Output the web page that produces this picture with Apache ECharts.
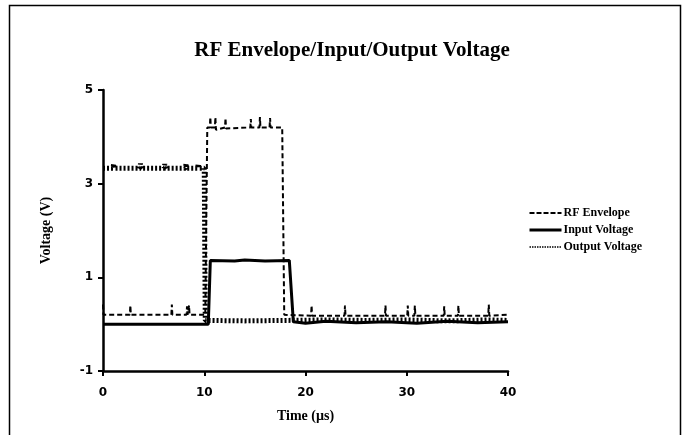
<!DOCTYPE html>
<html>
<head>
<meta charset="utf-8">
<script src="https://cdn.jsdelivr.net/npm/echarts@6/dist/echarts.min.js"></script>
<style>
  html, body { margin: 0; padding: 0; background: #fff; }
  #chart { width: 690px; height: 435px; }
</style>
</head>
<body>
<div id="chart"></div>
<script>
// 数据
var xTicks = [0, 10, 20, 30, 40];
var yTicks = [-1, 1, 3, 5];

var rfTime = [0, 0.05, 2.65, 2.7, 2.75, 6.75, 6.8, 6.85, 8.25, 8.3, 8.35, 8.45, 8.5, 8.55, 10.1,
  10.3, 10.55, 10.6, 10.65, 11.05, 11.1, 11.15, 12.05, 12.1, 12.15, 14.55, 14.6, 14.65,
  15.45, 15.5, 15.55, 16.45, 16.5, 16.55, 17.7,
  17.9, 20.55, 20.6, 20.65, 23.85, 23.9, 23.95, 27.85, 27.9, 27.95, 30.05, 30.1, 30.15,
  30.75, 30.8, 30.85, 33.65, 33.7, 33.75, 35.05, 35.1, 35.15, 38.05, 38.1, 38.15, 40];
var rfValue = [0.42, 0.2, 0.2, 0.4, 0.2, 0.2, 0.42, 0.2, 0.2, 0.38, 0.2, 0.2, 0.4, 0.2, 0.2,
  4.2, 4.2, 4.42, 4.2, 4.2, 4.42, 4.15, 4.2, 4.4, 4.18, 4.2, 4.38, 4.2,
  4.2, 4.42, 4.2, 4.2, 4.4, 4.2, 4.2,
  0.2, 0.18, 0.4, 0.18, 0.18, 0.4, 0.18, 0.18, 0.4, 0.18, 0.18, 0.4, 0.18,
  0.18, 0.4, 0.18, 0.18, 0.38, 0.18, 0.18, 0.4, 0.18, 0.18, 0.42, 0.18, 0.2];

var inTime = [0, 10.4, 10.6, 13.0, 14.0, 16.0, 18.4, 18.8, 20, 22, 25, 28, 31, 34, 37, 40];
var inValue = [0, 0, 1.36, 1.35, 1.37, 1.35, 1.36, 0.05, 0.02, 0.06, 0.03, 0.05, 0.02, 0.06, 0.03, 0.05];

var outTime = [0, 1.0, 1.05, 1.1, 3.65, 3.7, 3.75, 6.05, 6.1, 6.15, 8.15, 8.2, 8.25, 9.35, 9.4, 9.45, 10.0,
  10.1, 14, 18, 22, 26, 30, 34, 38, 40];
var outValue = [3.33, 3.33, 3.42, 3.33, 3.33, 3.43, 3.33, 3.33, 3.42, 3.33, 3.33, 3.43, 3.33, 3.33, 3.42, 3.33, 3.33,
  0.08, 0.07, 0.08, 0.09, 0.08, 0.09, 0.07, 0.09, 0.08];

// 把两个数组拼成 [x, y]
function pairs(xs, ys) {
  var arr = [];
  for (var i = 0; i < xs.length; i++) {
    arr.push([xs[i], ys[i]]);
  }
  return arr;
}

var serifBold = { fontFamily: '"Liberation Serif", "Times New Roman", serif', fontWeight: 'bold', color: '#000' };
var sansBold = { fontFamily: '"DejaVu Sans", Verdana, sans-serif', fontWeight: 'bold', color: '#000', fontSize: 12 };

var myChart = echarts.init(document.getElementById('chart'));

myChart.setOption({
  animation: false,
  backgroundColor: '#fff',
  title: {
    text: 'RF Envelope/Input/Output Voltage',
    left: 347,
    textAlign: 'center',
    top: 35,
    textStyle: Object.assign({}, serifBold, { fontSize: 21 })
  },
  legend: {
    orient: 'vertical',
    left: 523,
    top: 202,
    itemWidth: 32,
    itemHeight: 12,
    itemGap: 5,
    itemStyle: { opacity: 0 },
    textStyle: Object.assign({}, serifBold, { fontSize: 12, padding: [0, 0, 0, -3] }),
    data: [
      { name: 'RF Envelope', lineStyle: { color: '#000', width: 2, type: [5, 2] } },
      { name: 'Input Voltage', lineStyle: { color: '#000', width: 3, type: 'solid' } },
      { name: 'Output Voltage', lineStyle: { color: '#000', width: 1.5, type: [1.5, 1] } }
    ]
  },
  graphic: [
    {
      type: 'rect',
      shape: { x: 9.5, y: 5.5, width: 671, height: 450 },
      style: { fill: 'none', stroke: '#000', lineWidth: 1.5 },
      silent: true
    }
  ],
  grid: {
    left: 103,
    top: 90,
    width: 405,
    height: 281,
    containLabel: false
  },
  xAxis: {
    type: 'value',
    min: xTicks[0],
    max: xTicks[xTicks.length - 1],
    interval: 10,
    name: 'Time (µs)',
    nameLocation: 'middle',
    nameGap: 38,
    nameTextStyle: Object.assign({}, serifBold, { fontSize: 14 }),
    axisLine: { onZero: false, lineStyle: { color: '#000', width: 2.5 } },
    axisTick: { show: true, length: 5, lineStyle: { color: '#000', width: 2 } },
    axisLabel: Object.assign({}, sansBold, { margin: 16 }),
    splitLine: { show: false }
  },
  yAxis: {
    type: 'value',
    min: yTicks[0],
    max: yTicks[yTicks.length - 1],
    interval: 2,
    name: 'Voltage (V)',
    nameLocation: 'middle',
    nameGap: 50,
    nameRotate: 90,
    nameTextStyle: Object.assign({}, serifBold, { fontSize: 14 }),
    axisLine: { show: true, onZero: false, lineStyle: { color: '#000', width: 2.5 } },
    axisTick: { show: true, length: 5, lineStyle: { color: '#000', width: 2 } },
    axisLabel: Object.assign({}, sansBold, { margin: 10 }),
    splitLine: { show: false }
  },
  series: [
    {
      name: 'Output Voltage',
      type: 'line',
      symbol: 'none',
      z: 1,
      lineStyle: { color: '#000', width: 5, type: [2, 2] },
      itemStyle: { color: '#000' },
      data: pairs(outTime, outValue)
    },
    {
      name: 'RF Envelope',
      type: 'line',
      symbol: 'none',
      z: 2,
      lineStyle: { color: '#000', width: 2, type: [5, 3] },
      itemStyle: { color: '#000' },
      data: pairs(rfTime, rfValue)
    },
    {
      name: 'Input Voltage',
      type: 'line',
      symbol: 'none',
      z: 3,
      lineStyle: { color: '#000', width: 3 },
      itemStyle: { color: '#000' },
      data: pairs(inTime, inValue)
    }
  ]
});
</script>
</body>
</html>
